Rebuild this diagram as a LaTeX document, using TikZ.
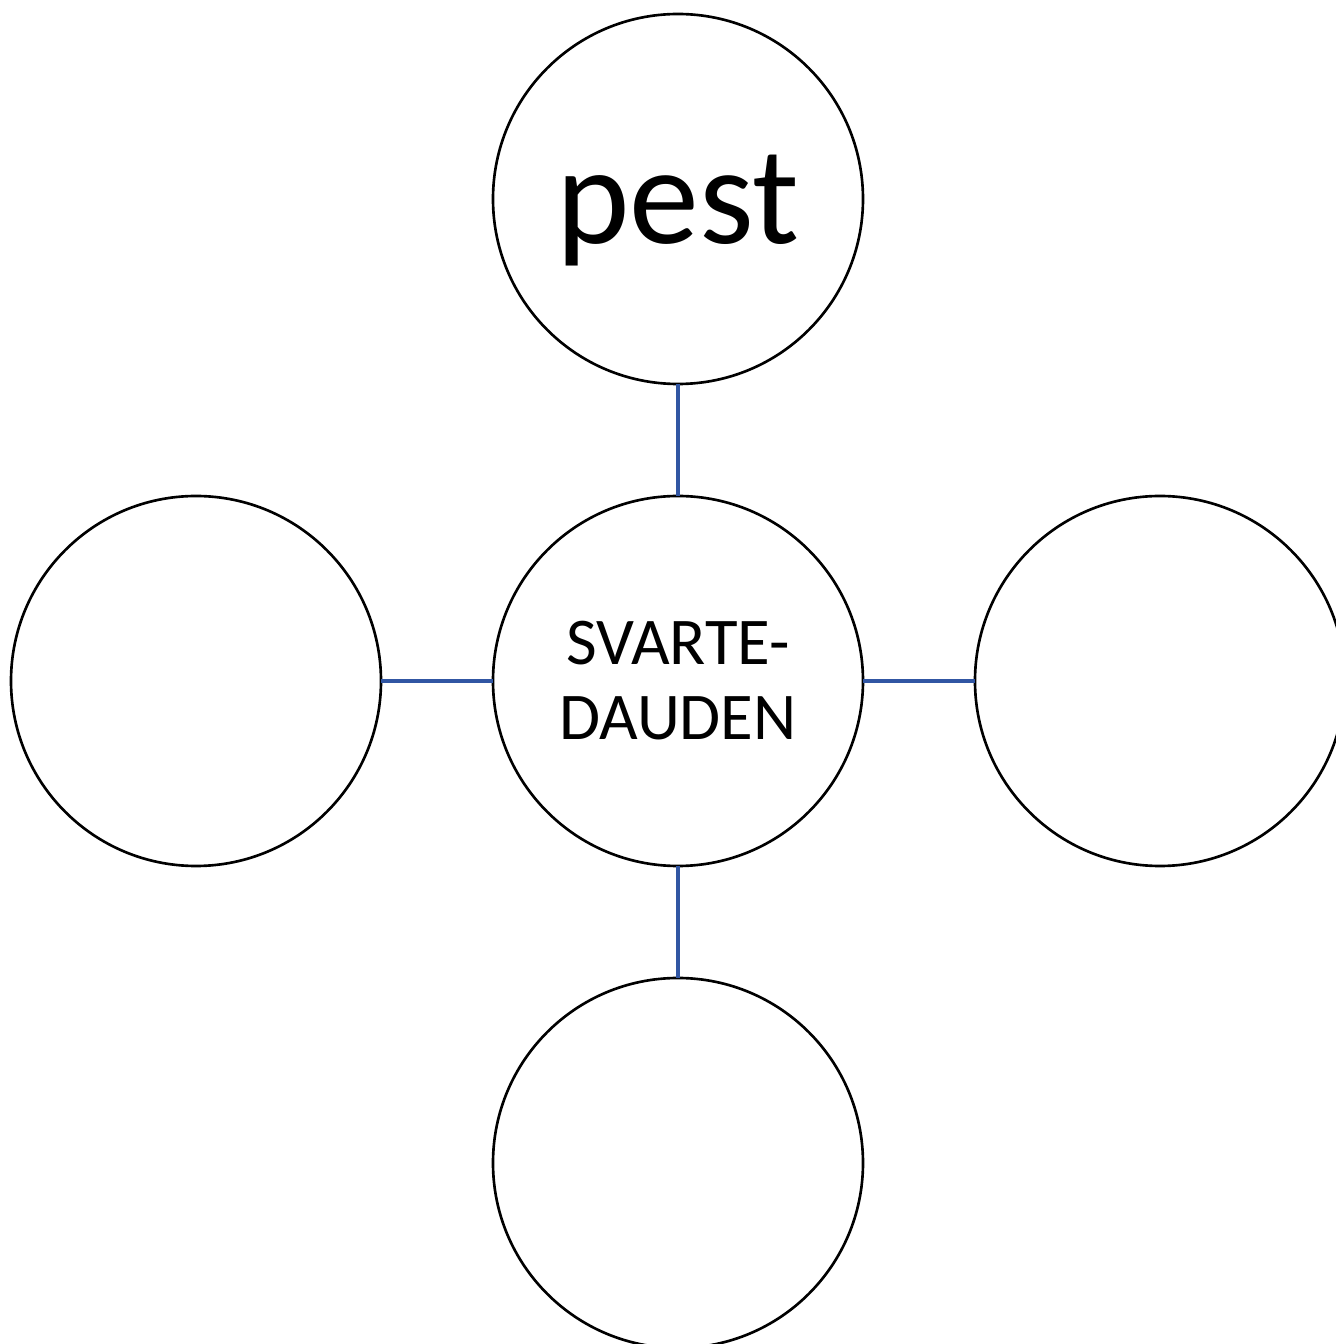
\documentclass[tikz,border=0pt]{standalone}
\usepackage{fontspec}
\setmainfont{Carlito}
\usetikzlibrary{positioning}
\definecolor{myBlue}{HTML}{3156A3}

\begin{document}
\begin{tikzpicture}
[
node distance=1.12cm,
bubble/.style={circle,draw=black,line width=0.75pt,minimum size=3.7cm,inner sep=0pt,outer sep=0pt,fill=white},
link/.style={myBlue,line width=1pt},
]
\useasboundingbox (0,0) rectangle (13.35,13.44);

% Nodes
\node[bubble,align=center,font=\fontsize{19pt}{21.3pt}\selectfont] (dauden) at (6.78,6.63) {SVARTE-\\DAUDEN};
\node[bubble,above=of dauden,font=\fontsize{39.8pt}{44pt}\selectfont,text depth=0pt] (pest) {pest};
\node[bubble,left=of dauden] (lcirc) {};
\node[bubble,right=of dauden] (rcirc) {};
\node[bubble,below=of dauden] (bcirc) {};

% Edges
\draw[link] (dauden) -- (pest);
\draw[link] (dauden) -- (lcirc);
\draw[link] (dauden) -- (rcirc);
\draw[link] (dauden) -- (bcirc);

\end{tikzpicture}
\end{document}
